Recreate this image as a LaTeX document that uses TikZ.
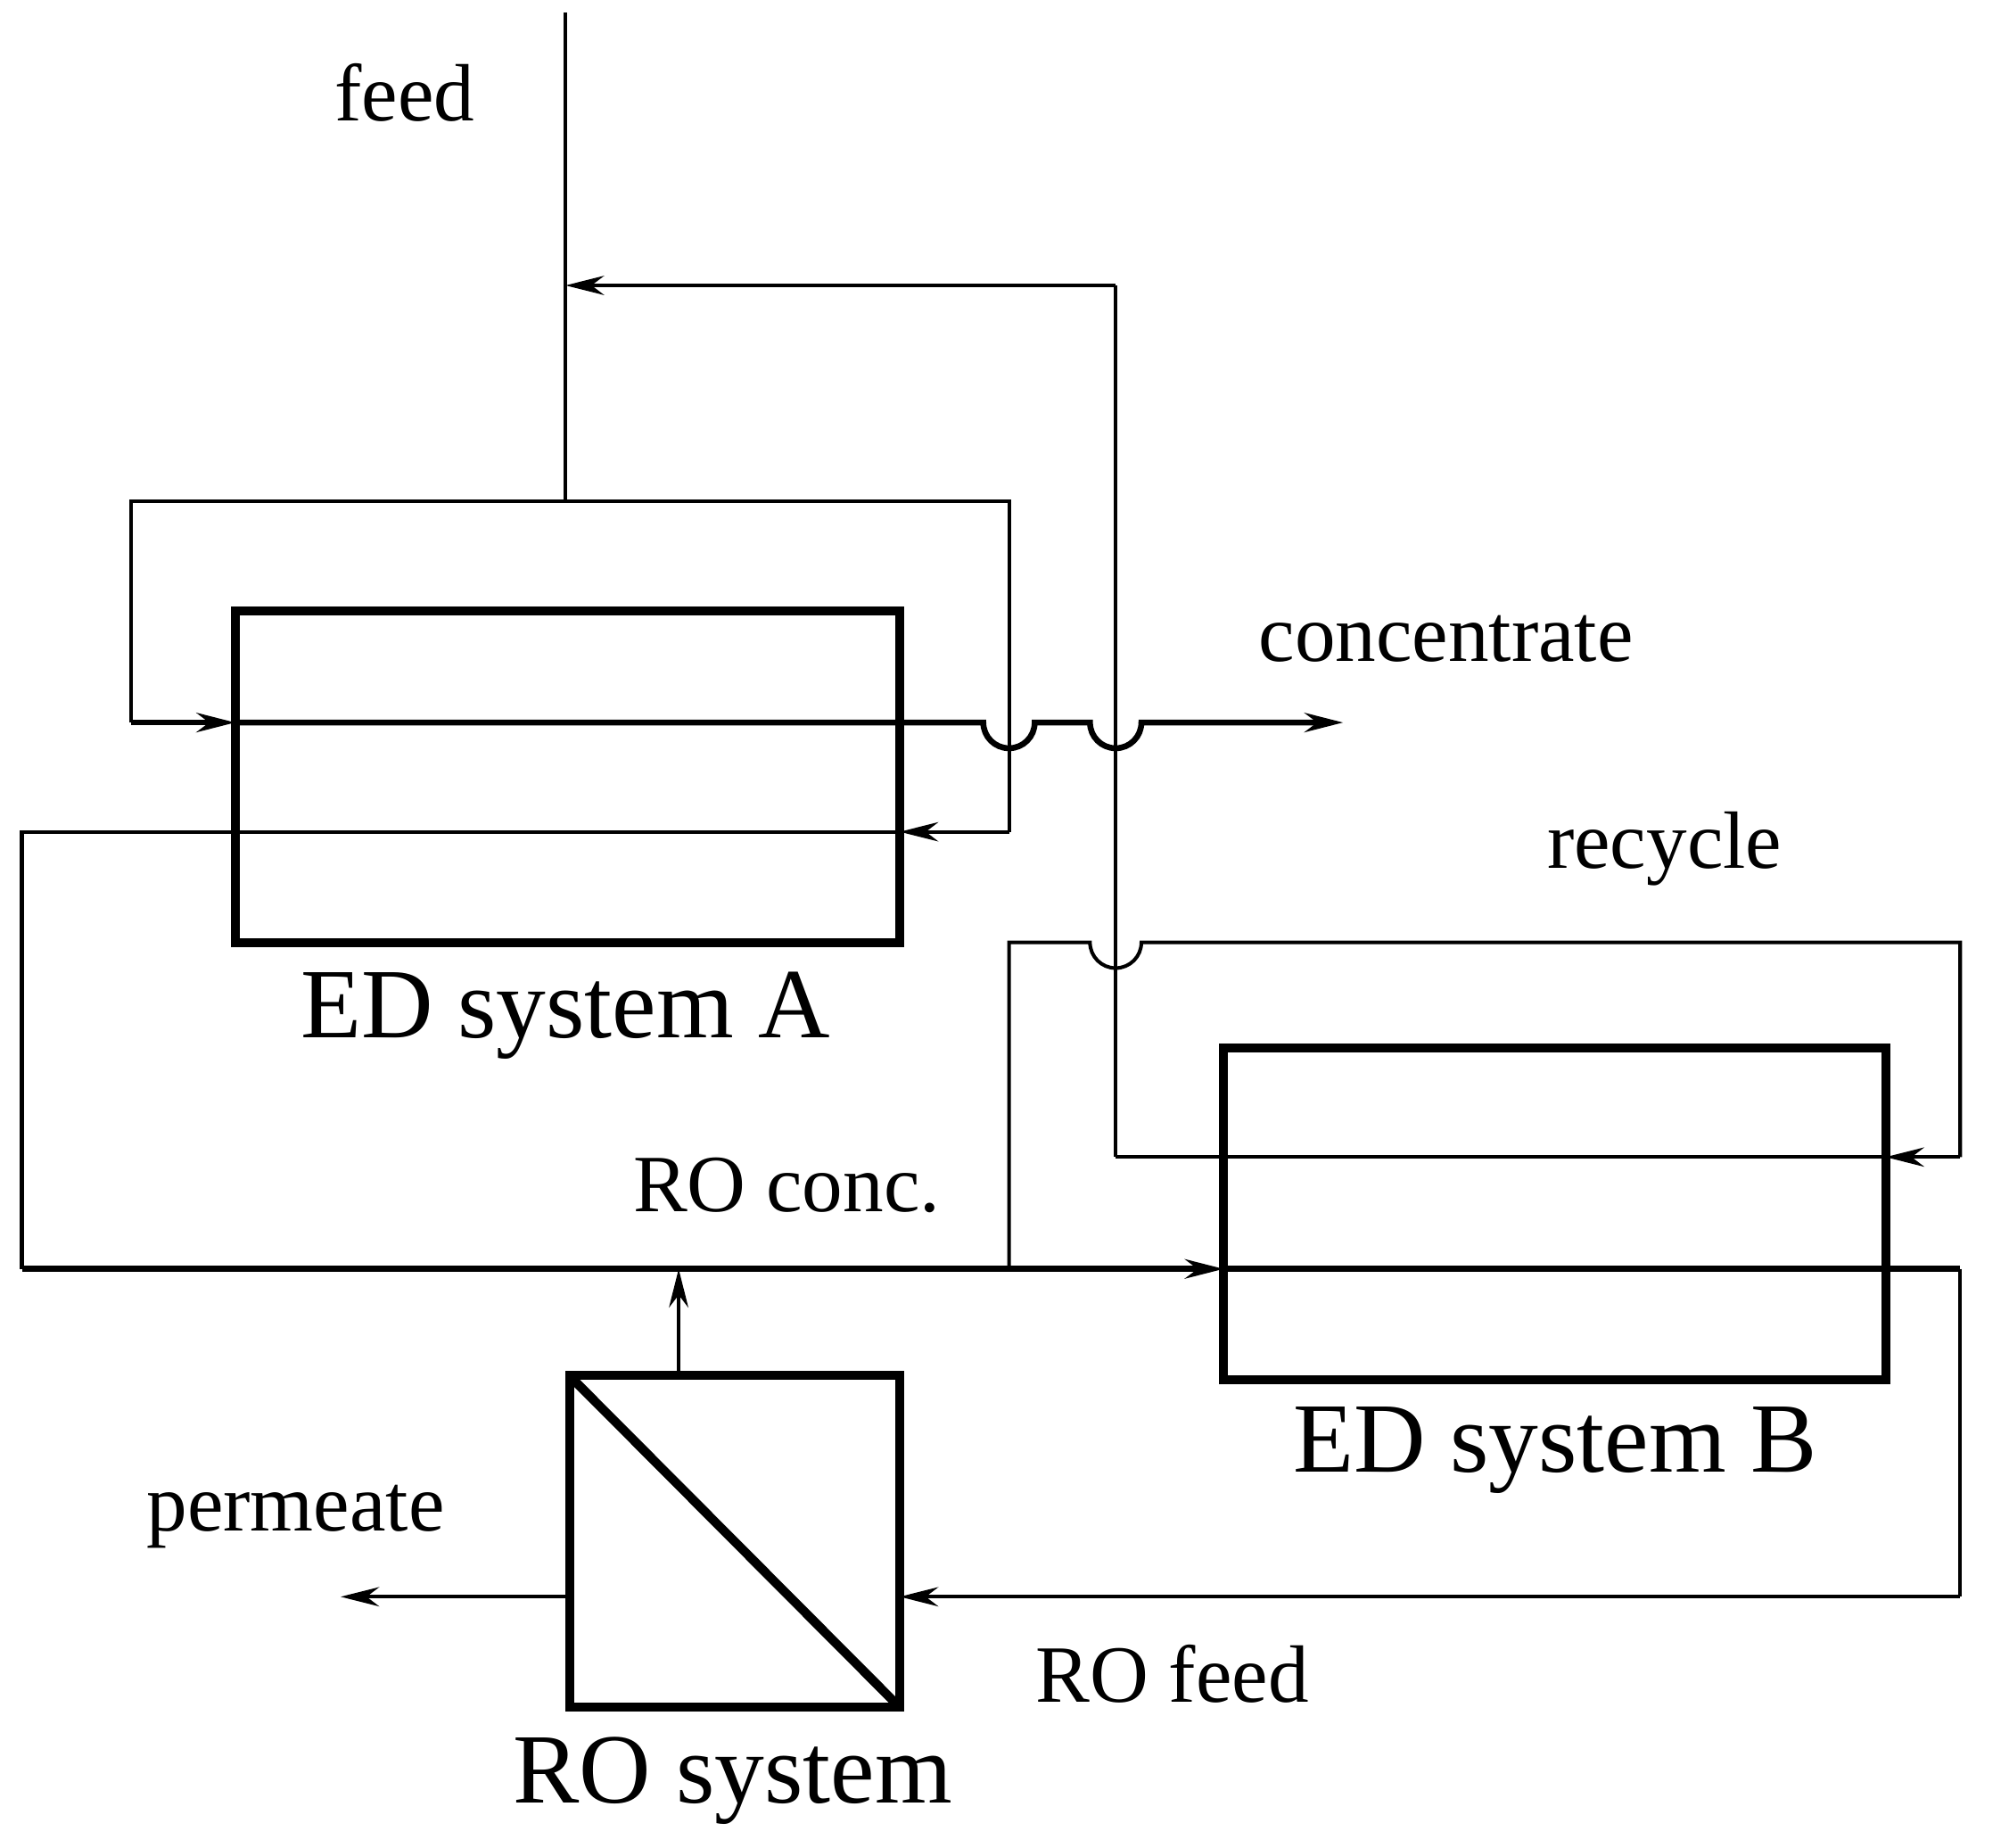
\documentclass[tikz,border=0pt]{standalone}
\usepackage{fontspec}
\setmainfont{Liberation Serif}
\usetikzlibrary{arrows.meta}
\begin{document}
\begin{tikzpicture}[x=0.02cm,y=-0.02cm,
  thin line/.style={line width=1.6pt},
  mid line/.style={line width=2.6pt},
  box/.style={line width=4pt},
  tip/.style={-{Stealth[length=0.6cm,width=0.3cm]}},
  biglab/.style={font=\fontsize{44}{48}\selectfont},
  lab/.style={font=\fontsize{36}{40}\selectfont}]
\useasboundingbox (0,0) rectangle (1563,1437);
% boxes
\draw[box] (183,475) rectangle (700,733);
\draw[box] (952,815) rectangle (1467,1073);
\draw[box] (443,1070) rectangle (700,1328);
\draw[box] (443,1070) -- (700,1328);
\coordinate (A) at (183,475); \coordinate (B) at (952,815);
% feed and loop
\draw[thin line] (440,10) -- (440,390);
\draw[thin line] (102,562) -- (102,390) -- (785,390) -- (785,647);
\draw[thin line,tip] (785,647) -- (700,647);
\draw[thin line] (700,647) -- (17,647) -- (17,987);
\draw[mid line,tip] (102,562) -- (183,562);
\draw[mid line,tip] (183,562) -- (765,562) arc[start angle=180,end angle=360,radius=0.4cm] -- (848,562) arc[start angle=180,end angle=360,radius=0.4cm] -- (1045,562);
% recycle
\draw[thin line,tip] (868,222) -- (440,222);
\draw[thin line] (868,900) -- (868,222);
\draw[thin line] (785,987) -- (785,733) -- (848,733) arc[start angle=180,end angle=360,radius=0.4cm] -- (1525,733) -- (1525,900);
\draw[thin line,tip] (1525,900) -- (1467,900);
\draw[thin line] (1467,900) -- (868,900);
% RO conc line
\draw[mid line,tip] (17,987) -- (952,987);
\draw[mid line] (952,987) -- (1525,987);
\draw[thin line] (1525,987) -- (1525,1242);
\draw[thin line,tip] (1525,1242) -- (700,1242);
\draw[thin line,tip] (528,1070) -- (528,987);
\draw[thin line,tip] (443,1242) -- (265,1242);
% labels
\node[lab] at (315,72) {feed};
\node[lab] at (1125,497) {concentrate};
\node[lab] at (1295,660) {recycle};
\node[biglab] at (440,790) {ED system A};
\node[lab] at (612,922) {RO conc.};
\node[biglab] at (1210,1128) {ED system B};
\node[lab] at (230,1180) {permeate};
\node[lab] at (912,1302) {RO feed};
\node[biglab] at (570,1385) {RO system};
\end{tikzpicture}
\end{document}
